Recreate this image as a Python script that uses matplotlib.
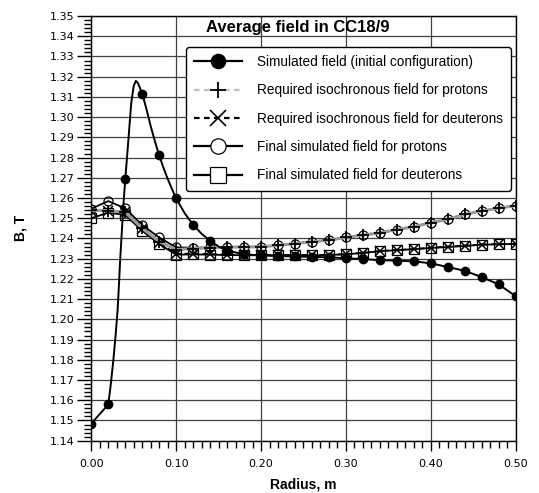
import matplotlib
matplotlib.use("Agg")
import matplotlib.pyplot as plt
from matplotlib.lines import Line2D
from matplotlib.ticker import MultipleLocator, FormatStrFormatter

# radius grid of the markers, m
radius = [0.00, 0.02, 0.04, 0.06, 0.08, 0.10, 0.12, 0.14, 0.16, 0.18, 0.20, 0.22, 0.24,
          0.26, 0.28, 0.30, 0.32, 0.34, 0.36, 0.38, 0.40, 0.42, 0.44, 0.46, 0.48, 0.50]

# simulated field, initial configuration (markers)
sim_initial = [1.1485, 1.1579, 1.2692, 1.3116, 1.2811, 1.2598, 1.2468, 1.2389, 1.2340,
               1.2322, 1.2316, 1.2313, 1.2311, 1.2309, 1.2307, 1.2302, 1.2298, 1.2293,
               1.2290, 1.2287, 1.2277, 1.2259, 1.2240, 1.2209, 1.2173, 1.2115]

# the initial-field line near the centre (denser than markers)
sim_curve_r = [0.000, 0.020, 0.023, 0.026, 0.0285, 0.031, 0.0325, 0.034, 0.0355, 0.037,
               0.0385, 0.040, 0.044, 0.047, 0.050, 0.0525, 0.055, 0.060, 0.065, 0.070,
               0.075, 0.080, 0.085, 0.090, 0.095, 0.100, 0.110, 0.120, 0.130, 0.140,
               0.150]
sim_curve_b = [1.1485, 1.1579, 1.1680, 1.1799, 1.1915, 1.2046, 1.2165, 1.2293, 1.2400,
               1.2507, 1.2605, 1.2692, 1.2903, 1.3068, 1.3155, 1.3179, 1.3168, 1.3116,
               1.3040, 1.2955, 1.2880, 1.2811, 1.2750, 1.2695, 1.2645, 1.2598, 1.2525,
               1.2468, 1.2423, 1.2389, 1.2360]

req_protons = [1.2540, 1.2537, 1.2530, 1.2450, 1.2385, 1.2345, 1.2350, 1.2354, 1.2357,
               1.2358, 1.2359, 1.2366, 1.2375, 1.2384, 1.2392, 1.2405, 1.2417, 1.2428,
               1.2444, 1.2458, 1.2478, 1.2495, 1.2519, 1.2536, 1.2550, 1.2562]

req_deuterons = [1.2537, 1.2537, 1.2530, 1.2445, 1.2379, 1.2325, 1.2325, 1.2323, 1.2320,
                 1.2318, 1.2318, 1.2318, 1.2318, 1.2318, 1.2319, 1.2323, 1.2329, 1.2338,
                 1.2343, 1.2348, 1.2354, 1.2359, 1.2364, 1.2370, 1.2372, 1.2374]

final_protons = [1.2547, 1.2585, 1.2549, 1.2466, 1.2405, 1.2356, 1.2354, 1.2356, 1.2357,
                 1.2358, 1.2359, 1.2366, 1.2375, 1.2384, 1.2392, 1.2405, 1.2417, 1.2428,
                 1.2444, 1.2458, 1.2478, 1.2495, 1.2519, 1.2536, 1.2550, 1.2562]

final_deuterons = [1.2500, 1.2528, 1.2516, 1.2438, 1.2372, 1.2320, 1.2321, 1.2320, 1.2318,
                   1.2317, 1.2317, 1.2317, 1.2317, 1.2317, 1.2318, 1.2322, 1.2328, 1.2337,
                   1.2342, 1.2347, 1.2353, 1.2358, 1.2363, 1.2369, 1.2371, 1.2373]

labels = ["Simulated field (initial configuration)",
          "Required isochronous field for protons",
          "Required isochronous field for deuterons",
          "Final simulated field for protons",
          "Final simulated field for deuterons"]

title = "Average field in CC18/9"

fig = plt.figure(figsize=(5.39, 4.93), dpi=100)
ax = fig.add_axes([0.1694, 0.1061, 0.7872, 0.8614])

# initial field: dense line near the centre, marker points further out
line_r = sim_curve_r + [r for r in radius if r > sim_curve_r[-1]]
line_b = sim_curve_b + [b for r, b in zip(radius, sim_initial) if r > sim_curve_r[-1]]

ax.plot(radius, final_deuterons, color="black", lw=1.3, marker="s", ms=6.5,
        mfc="none", mec="black", mew=0.9, zorder=3)
ax.plot(radius, final_protons, color="black", lw=1.3, marker="o", ms=6.5,
        mfc="none", mec="black", mew=0.9, zorder=3)
ax.plot(radius, req_deuterons, color="black", lw=1.3, ls=(0, (3, 2)), marker="x",
        ms=6.5, mec="black", mew=1.1, zorder=4)
ax.plot(radius, req_protons, color="0.6", lw=2.2, ls="-", marker="+",
        ms=8, mec="black", mew=1.3, zorder=4)
ax.plot(line_r, line_b, color="black", lw=1.4, zorder=5)
ax.plot(radius, sim_initial, ls="none", marker="o", ms=6, mfc="black", mec="black",
        zorder=6)

ax.set_xlim(0.0, 0.5)
ax.set_ylim(1.14, 1.35)
ax.xaxis.set_major_locator(MultipleLocator(0.1))
ax.xaxis.set_minor_locator(MultipleLocator(0.01))
ax.yaxis.set_major_locator(MultipleLocator(0.01))
ax.yaxis.set_minor_locator(MultipleLocator(0.002))
ax.xaxis.set_major_formatter(FormatStrFormatter("%.2f"))
ax.yaxis.set_major_formatter(FormatStrFormatter("%.2f"))
ax.tick_params(axis="x", which="major", direction="out", length=7, width=1,
               labelsize=8, pad=6)
ax.tick_params(axis="x", which="minor", direction="out", length=5, width=1)
ax.tick_params(axis="y", which="major", direction="out", length=10, width=1,
               labelsize=8, pad=2)
ax.tick_params(axis="y", which="minor", direction="out", length=5, width=1)
ax.tick_params(top=False, right=False)
for lab in ax.get_xticklabels() + ax.get_yticklabels():
    lab.set_family("DejaVu Sans")

ax.grid(True, which="major", color="0.25", lw=0.9)
ax.set_axisbelow(True)
for sp in ax.spines.values():
    sp.set_linewidth(1.0)

ax.set_xlabel("Radius, m", fontsize=10, fontweight="bold", family="Liberation Sans",
              labelpad=6)
ax.set_ylabel("B, T", fontsize=10, fontweight="bold", family="Liberation Sans",
              labelpad=16)

ax.text(0.486, 0.963, title, transform=ax.transAxes, ha="center", va="baseline",
        fontsize=12, fontweight="bold", family="Liberation Sans", zorder=7)

handles = [
    Line2D([], [], color="black", lw=1.6, marker="o", ms=6, mfc="black", mec="black"),
    Line2D([], [], color="0.75", lw=1.6, ls=(0, (2.5, 2)), marker="+", ms=7,
           mec="black", mew=1.3),
    Line2D([], [], color="black", lw=1.6, ls=(0, (2.5, 2)), marker="x", ms=6.5,
           mec="black", mew=1.2),
    Line2D([], [], color="black", lw=1.6, marker="o", ms=6.5, mfc="white",
           mec="black", mew=0.9),
    Line2D([], [], color="black", lw=1.6, marker="s", ms=6.5, mfc="white",
           mec="black", mew=0.9),
]
leg = ax.legend(handles, labels, loc="upper right", bbox_to_anchor=(0.989, 0.927),
                prop={"family": "Liberation Sans", "size": 9.8}, markerscale=1.7,
                handlelength=3.5, handletextpad=1.1, labelspacing=1.05,
                borderpad=0.6, borderaxespad=0.0, fancybox=True, framealpha=1.0,
                edgecolor="black")
leg.get_frame().set_linewidth(1.0)
leg.set_zorder(8)

fig.savefig("out.png", dpi=100)
